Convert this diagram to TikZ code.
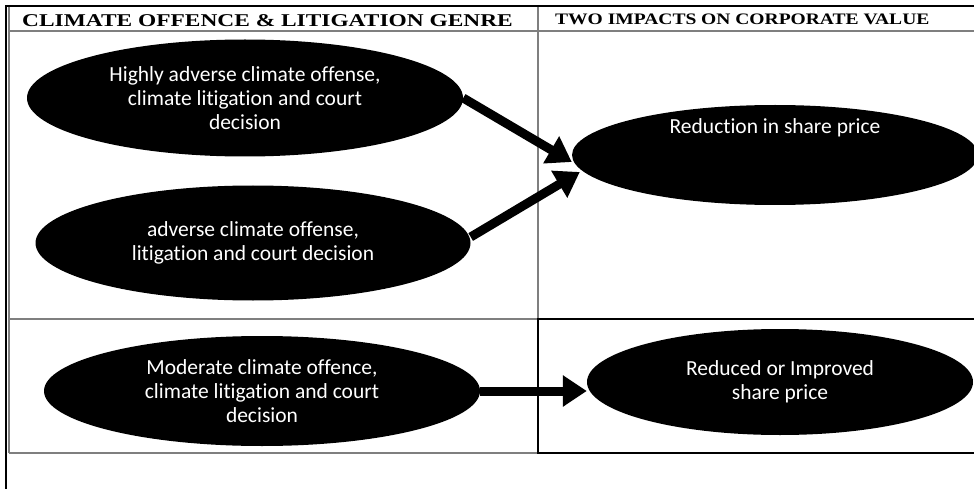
\documentclass[tikz,border=0pt]{standalone}
\usepackage{fontspec}
\setmainfont{Liberation Serif}
\newfontfamily\ovalfont[Ligatures=NoCommon]{Carlito}
\usepackage{graphicx}
\usetikzlibrary{arrows.meta, shapes.geometric, positioning, calc}
\definecolor{gridGray}{HTML}{7F7F7F}

\begin{document}
\begin{tikzpicture}[x=1pt, y=-1pt,
  oval/.style={ellipse, fill=black, text=white, inner sep=0pt, align=center,
    font=\ovalfont\fontsize{21.5}{24}\selectfont},
  bigarrow/.style={line width=9pt, -{Triangle[length=24pt,width=30pt]}},
  heading/.style={anchor=west, inner sep=0pt}]
\useasboundingbox (0,0) rectangle (974,489);
% table grid
\draw[gridGray, line width=1.3pt] (9,5) -- (9,453);
\draw[gridGray, line width=1.3pt] (9,31) -- (974,31);
\draw[gridGray, line width=1.3pt] (538,5) -- (538,319);
\draw[gridGray, line width=1.3pt] (9,319) -- (538,319) (9,453) -- (538,453);
\draw[line width=1.2pt] (974,319) -- (538,319) -- (538,453) -- (974,453);
\draw[line width=2.6pt] (6,489) -- (6,6) -- (974,6);
% column headings
\node[heading, font=\bfseries\fontsize{18}{20}\selectfont] (genre) at (22,21)
  {\scalebox{1.3}[1]{CLIMATE OFFENCE \& LITIGATION GENRE}};
\node[heading, font=\bfseries\fontsize{16}{18}\selectfont] (impacts) at (555,19)
  {\scalebox{1.22}[1]{TWO IMPACTS ON CORPORATE VALUE}};
% ovals
\node[oval, minimum width=436pt, minimum height=117pt] (high) at (245,98)
  {Highly adverse climate offense,\\climate litigation and court\\decision};
\node[oval, minimum width=435pt, minimum height=115pt] (adverse) at (253,243)
  {adverse climate offense,\\litigation and court decision};
\node[oval, minimum width=406pt, minimum height=100pt] (reduction) at (775,155) {};
\node[oval, fill=none] (reductiontxt) at (775,128) {Reduction in share price};
\node[oval, minimum width=436pt, minimum height=110pt] (moderate) at (262,391)
  {Moderate climate offence,\\climate litigation and court\\decision};
\node[oval, minimum width=386pt, minimum height=106pt] (improved) at (780,382)
  {Reduced or Improved\\share price};
% arrows
\draw[bigarrow] (high.east) -- ($(reduction.west)+(0,7)$);
\draw[bigarrow] ($(adverse.east)+(0,-6)$) -- ($(reduction.west)+(8,17)$);
\draw[bigarrow] (moderate.east) -- (moderate.east -| improved.west);
\end{tikzpicture}
\end{document}
